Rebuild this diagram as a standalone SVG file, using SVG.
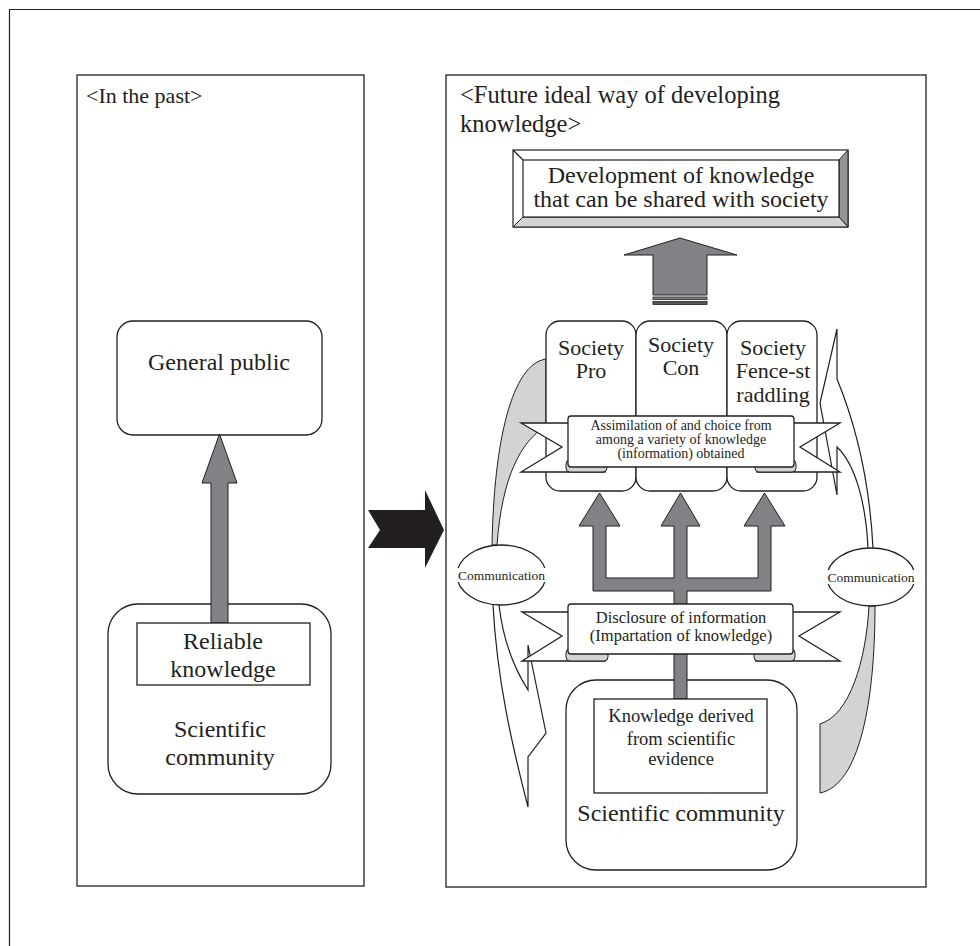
<svg xmlns="http://www.w3.org/2000/svg" width="980" height="946" viewBox="0 0 980 946">
<style>
.ln{fill:none;stroke:#231f20;stroke-width:1.2}
.box{fill:#fff;stroke:#231f20;stroke-width:1.3}
.arr{fill:#808285;stroke:#231f20;stroke-width:1}
.fold{fill:#d1d3d4;stroke:#231f20;stroke-width:1}
.gray{fill:#d1d3d4;stroke:#231f20;stroke-width:1}
text{font-family:"Liberation Serif","Times New Roman",serif;fill:#231f20;text-anchor:middle}
.t24{font-size:24px}
.t22{font-size:22px}
</style>
<rect width="980" height="946" fill="#fff"/>
<g id="frame">
<path class="ln" d="M9.5,946 V9.5 H980"/>
</g>
<g id="panel-past">
<rect class="box" x="77" y="75" width="287" height="811"/>
<text x="86" y="103" style="font-size:22px;text-anchor:start">&lt;In the past&gt;</text>
</g>
<g id="panel-future">
<rect class="box" x="446" y="75" width="480" height="812"/>
<text x="460" y="103" style="font-size:24.5px;text-anchor:start">&lt;Future ideal way of developing</text>
<text x="460" y="132" style="font-size:24.5px;text-anchor:start">knowledge&gt;</text>
</g>
<g id="big-arrow">
<polygon points="368,510 425,510 425,490 444,530 425,568 425,548 368,548 380,530" fill="#231f20"/>
</g>
<g id="general-public">
<rect class="box" x="117" y="321" width="205" height="114" rx="16"/>
<text class="t24" x="219" y="370">General public</text>
</g>
<g id="left-sci-community">
<rect class="box" x="108" y="604" width="223" height="190" rx="30"/>
<text class="t24" x="220" y="737">Scientific</text>
<text class="t24" x="220" y="765">community</text>
</g>
<g id="connectors">
<polygon class="arr" points="211,623 211,483 202,483 219.5,434 237,483 228,483 228,623"/>
</g>
<g id="reliable-knowledge">
<rect class="box" x="137" y="623" width="173" height="62"/>
<text class="t24" x="223" y="649">Reliable</text>
<text class="t24" x="223" y="677">knowledge</text>
</g>
<g id="development">
<rect x="513" y="150" width="335" height="77" fill="#fff" stroke="#231f20" stroke-width="1.2"/>
<polygon points="839,160 848,150 848,227 839,217" fill="#939598" stroke="#231f20" stroke-width="1"/>
<polygon points="523,217 839,217 848,227 513,227" fill="#d1d3d4" stroke="#231f20" stroke-width="1"/>
<line class="ln" x1="513" y1="150" x2="523" y2="160"/>
<rect x="523" y="160" width="316" height="57" fill="#fff" stroke="#231f20" stroke-width="1.2"/>
<text class="t24" x="681" y="183">Development of knowledge</text>
<text class="t24" x="681" y="207">that can be shared with society</text>
</g>
<g id="up-arrow">
<polygon class="arr" points="653,295 653,255 624,255 680,238 737,255 707,255 707,295"/>
<rect x="653" y="297" width="54" height="2.5" fill="#808285" stroke="#231f20" stroke-width="0.8"/>
<rect x="653" y="301.5" width="54" height="3" fill="#58595b" stroke="#231f20" stroke-width="0.8"/>
</g>
<g id="comm-left-links">
<path class="gray" d="M546,359 C512,364 494,440 492,545 L497,545 C502,478 520,442 546,426 Z"/>
<path class="ln" d="M493,605 C497,680 512,745 528,807 L528,757 L546,733 L528,645 L528,690 C514,668 503,640 499,605"/>
</g>
<g id="comm-right-links">
<path class="ln" d="M868,548 C866,505 856,465 837,447 L837,495 L820,403 L837,329 L837,379 C858,430 870,490 873,548"/>
<path class="gray" d="M869,606 C866,660 850,715 820,724 L820,793 C860,785 875,700 875,606 Z"/>
</g>
<g id="society-pro">
<rect class="box" x="546" y="321" width="90" height="170" rx="14"/>
<text class="t22" x="591" y="355">Society</text>
<text class="t22" x="591" y="378">Pro</text>
</g>
<g id="society-con">
<rect class="box" x="636" y="321" width="91" height="170" rx="14"/>
<text class="t22" x="681" y="352">Society</text>
<text class="t22" x="681" y="375">Con</text>
</g>
<g id="society-fence">
<rect class="box" x="727" y="321" width="90" height="170" rx="14"/>
<text class="t22" x="773" y="355">Society</text>
<text class="t22" x="773" y="378">Fence-st</text>
<text class="t22" x="773" y="402">raddling</text>
</g>
<g id="ribbon-assimilation">
<path class="box" d="M521,423 L605,423 L605,472 L521,472 L562,447 Z"/>
<path class="box" d="M840,423 L757,423 L757,472 L840,472 L800,447 Z"/>
<rect class="fold" x="566" y="460" width="41" height="12" rx="4"/>
<rect class="fold" x="755" y="460" width="41" height="12" rx="4"/>
<rect class="box" x="568" y="416" width="226" height="51" rx="3"/>
<text x="681" y="430" style="font-size:14px">Assimilation of and choice from</text>
<text x="681" y="444" style="font-size:14px">among a variety of knowledge</text>
<text x="681" y="458" style="font-size:14px">(information) obtained</text>
</g>
<g id="right-sci-community">
<rect class="box" x="566" y="680" width="231" height="190" rx="30"/>
<text class="t24" x="681" y="821">Scientific community</text>
</g>
<g id="trident">
<polygon class="arr" points="593,591 593,526 579,526 599.5,493 620,526 606,526 606,578 674,578 674,526 661,526 680.5,493 700,526 687,526 687,578 758,578 758,526 744,526 764.5,493 785,526 771,526 771,591 687,591 687,699 674,699 674,591"/>
</g>
<g id="knowledge-derived">
<rect class="box" x="594" y="699" width="173" height="94"/>
<text x="681" y="722" style="font-size:18.5px">Knowledge derived</text>
<text x="681" y="745" style="font-size:18.5px">from scientific</text>
<text x="681" y="765" style="font-size:18.5px">evidence</text>
</g>
<g id="ribbon-disclosure">
<path class="box" d="M522,612 L605,612 L605,661 L522,661 L562,636 Z"/>
<path class="box" d="M840,612 L756,612 L756,661 L840,661 L799,636 Z"/>
<rect class="fold" x="566" y="649" width="42" height="12" rx="4"/>
<rect class="fold" x="754" y="649" width="41" height="12" rx="4"/>
<rect class="box" x="568" y="604" width="225" height="50" rx="3"/>
<text x="681" y="623" style="font-size:16.5px">Disclosure of information</text>
<text x="681" y="641" style="font-size:16.5px">(Impartation of knowledge)</text>
</g>
<g id="comm-left">
<ellipse class="box" cx="501.5" cy="575" rx="44.5" ry="30"/>
<rect x="456" y="568" width="91" height="14" fill="#fff"/>
<text x="501.5" y="580" style="font-size:13.5px">Communication</text>
</g>
<g id="comm-right">
<ellipse class="box" cx="871" cy="577" rx="44" ry="29"/>
<rect x="826" y="570" width="90" height="14" fill="#fff"/>
<text x="871" y="582" style="font-size:13.5px">Communication</text>
</g>
</svg>
